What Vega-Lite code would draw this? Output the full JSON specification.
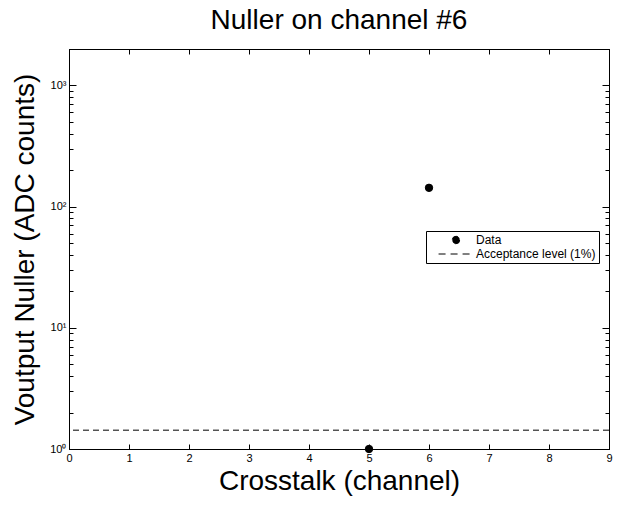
{
  "$schema": "https://vega.github.io/schema/vega-lite/v6.json",
  "width": 540,
  "height": 400,
  "autosize": "none",
  "padding": {"left": 69, "top": 49, "right": 17, "bottom": 59},
  "config": {
    "font": "Liberation Sans",
    "view": {"stroke": "black", "strokeWidth": 1},
    "axis": {"grid": false, "domainColor": "black", "tickColor": "black", "labelColor": "black", "titleColor": "black", "labelFont": "Liberation Sans", "titleFont": "Liberation Sans", "titleFontWeight": "normal", "labelFontSize": 11}
  },
  "title": {"text": "Nuller on channel #6", "fontSize": 28, "fontWeight": "normal", "font": "Liberation Sans", "color": "black", "offset": 14},
  "datasets": {
    "points": [
      {"channel": 5, "v": 1, "series": "Data"},
      {"channel": 6, "v": 143, "series": "Data"}
    ],
    "level": [
      {"level": 1.43, "series": "Acceptance level (1%)"}
    ]
  },
  "layer": [
    {
      "data": {"name": "points"},
      "mark": {"type": "point", "filled": true, "fill": "black", "stroke": "black", "strokeWidth": 1, "opacity": 1},
      "encoding": {
        "x": {"field": "channel", "type": "quantitative", "scale": {"domain": [0, 9], "nice": false},
          "axis": {"orient": "bottom", "title": "Crosstalk (channel)", "titleFontSize": 28, "titlePadding": 4, "values": [0,1,2,3,4,5,6,7,8,9], "tickSize": -5, "labelPadding": 8, "labelFlush": false}},
        "y": {"field": "v", "type": "quantitative", "scale": {"type": "log", "domain": [1, 2000], "nice": false},
          "axis": {"orient": "left", "title": "Voutput Nuller (ADC counts)", "titleFontSize": 28, "titlePadding": 10,
            "values": [1,2,3,4,5,6,7,8,9,10,20,30,40,50,60,70,80,90,100,200,300,400,500,600,700,800,900,1000,2000],
            "labelExpr": "datum.value == 1 ? '10⁰' : datum.value == 10 ? '10¹' : datum.value == 100 ? '10²' : datum.value == 1000 ? '10³' : ''",
            "tickSize": {"condition": {"test": "datum.value == 1 || datum.value == 10 || datum.value == 100 || datum.value == 1000", "value": -7}, "value": -4},
            "labelPadding": 10, "labelFlush": false}},
        "shape": {"field": "series", "type": "nominal",
          "scale": {"domain": ["Data", "Acceptance level (1%)"], "range": ["circle", "M-8,0H8"]},
          "legend": {"orient": "none", "legendX": 357, "legendY": 182, "title": null, "strokeColor": "black", "fillColor": "white", "padding": 3, "labelFontSize": 12, "labelColor": "black", "labelFont": "Liberation Sans", "rowPadding": 2, "symbolOffset": 21, "labelOffset": 14, "symbolDash": [7, 5], "symbolStrokeColor": "black", "symbolStrokeWidth": 1}},
        "size": {"field": "series", "type": "nominal",
          "scale": {"domain": ["Data", "Acceptance level (1%)"], "range": [55, 19]}}
      }
    },
    {
      "data": {"name": "level"},
      "mark": {"type": "rule", "strokeDash": [6, 4], "strokeWidth": 1, "color": "black"},
      "encoding": {
        "y": {"field": "level", "type": "quantitative", "axis": null}
      }
    },
    {
      "data": {"name": "points"},
      "mark": {"type": "point", "opacity": 0},
      "encoding": {
        "x": {"field": "channel", "type": "quantitative", "axis": {"orient": "top", "title": null, "labels": false, "values": [0,1,2,3,4,5,6,7,8,9], "tickSize": -5, "domain": true}},
        "y": {"field": "v", "type": "quantitative", "axis": {"orient": "right", "title": null, "labels": false,
          "values": [1,2,3,4,5,6,7,8,9,10,20,30,40,50,60,70,80,90,100,200,300,400,500,600,700,800,900,1000,2000],
          "tickSize": {"condition": {"test": "datum.value == 1 || datum.value == 10 || datum.value == 100 || datum.value == 1000", "value": -7}, "value": -4}}}
      }
    }
  ],
  "resolve": {"axis": {"x": "independent", "y": "independent"}}
}
